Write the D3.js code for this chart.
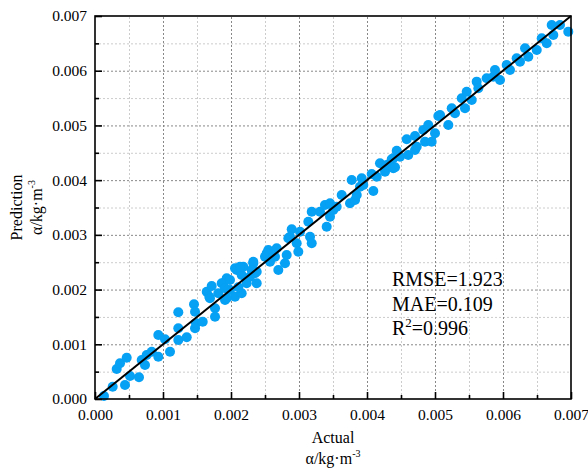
<!DOCTYPE html>
<html>
<head>
<meta charset="utf-8">
<script src="https://cdn.jsdelivr.net/npm/d3@7"></script>
<style>
	body{margin:0;background:#fff;}
	.axis path{display:none;}
	.axis line{stroke:#000;stroke-width:1.6px;}
	.grid-major line{stroke:#888;stroke-width:1px;stroke-dasharray:2,2;}
	.grid-minor line{stroke:#ccc;stroke-width:1px;stroke-dasharray:2,2;}
	.grid path{display:none;}
</style>
</head>
<body>
<div id="chart"></div>
<script>
// values (kg·m^-3)
const actual = [
	0.000132,0.000260,0.000441,0.000515,0.000647,0.000319,0.000368,0.000466,0.000687,0.000735,
	0.000760,0.000834,0.000931,0.001103,0.000931,0.001029,0.001225,0.001225,0.001349,0.001225,
	0.001456,0.001471,0.001471,0.001485,0.001584,0.001765,0.001765,0.001643,0.001681,0.001716,
	0.001813,0.001887,0.001937,0.001912,0.001985,0.002059,0.002084,0.002157,0.002157,0.002231,
	0.002279,0.002328,0.002378,0.002353,0.002515,0.002574,0.001691,0.001863,0.001912,0.001937,
	0.001985,0.002059,0.002107,0.002181,0.002328,0.002378,0.002304,0.002500,0.002549,0.002672,
	0.002647,0.002696,0.002794,0.002819,0.002843,0.002893,0.002966,0.002990,0.002132,0.002525,
	0.002622,0.002868,0.003015,0.003162,0.003187,0.003137,0.003187,0.003309,0.003382,0.003407,
	0.003456,0.003504,0.003456,0.003554,0.003628,0.003750,0.003775,0.003824,0.003897,0.003922,
	0.003946,0.004093,0.004069,0.004143,0.004191,0.004265,0.004290,0.004387,0.004387,0.004485,
	0.004607,0.004706,0.003849,0.004363,0.004412,0.004437,0.004584,0.004706,0.004731,0.004828,
	0.004853,0.004901,0.004951,0.005000,0.005049,0.005196,0.005246,0.005294,0.005393,0.005441,
	0.005466,0.005540,0.005074,0.005613,0.005637,0.005760,0.005882,0.005857,0.005956,0.006054,
	0.006103,0.006201,0.006250,0.006324,0.006372,0.006496,0.006569,0.006643,0.006740,0.006716,
	0.006838,0.006960
];
const predicted = [
	0.000055,0.000224,0.000256,0.000420,0.000397,0.000548,0.000653,0.000755,0.000713,0.000621,
	0.000804,0.000865,0.000773,0.000865,0.001170,0.001091,0.001078,0.001292,0.001128,0.001585,
	0.001731,0.001596,0.001292,0.001384,0.001413,0.001658,0.001504,0.001961,0.001870,0.002065,
	0.001932,0.002115,0.002206,0.001810,0.001992,0.001870,0.002358,0.002266,0.001932,0.002115,
	0.002235,0.002480,0.002115,0.002298,0.002614,0.002510,0.001841,0.002115,0.002023,0.001841,
	0.002175,0.002389,0.002042,0.002418,0.002510,0.002327,0.002358,0.002601,0.002723,0.002754,
	0.002601,0.002358,0.002480,0.002632,0.002937,0.003102,0.002846,0.002692,0.002418,0.002663,
	0.002601,0.002967,0.003058,0.002967,0.002846,0.003241,0.003423,0.003423,0.003546,0.003149,
	0.003332,0.003455,0.003577,0.003515,0.003729,0.003577,0.004003,0.003637,0.003880,0.004034,
	0.003912,0.003802,0.004113,0.004063,0.004308,0.004155,0.004277,0.004217,0.004400,0.004429,
	0.004460,0.004551,0.003729,0.004381,0.004235,0.004538,0.004747,0.004807,0.004612,0.004917,
	0.004703,0.005008,0.004703,0.004856,0.005173,0.005008,0.005313,0.005222,0.005496,0.005313,
	0.005617,0.005465,0.005191,0.005800,0.005679,0.005862,0.006013,0.005891,0.005831,0.006105,
	0.006013,0.006227,0.006165,0.006410,0.006257,0.006379,0.006593,0.006502,0.006653,0.006836,
	0.006836,0.006714
];
const majorTicks = [0,0.001,0.002,0.003,0.004,0.005,0.006,0.007];
const minorTicks = [0.0005,0.0015,0.0025,0.0035,0.0045,0.0055,0.0065];
const statLines = [
	{label:'RMSE', value:'1.923'},
	{label:'MAE', value:'0.109'},
	{label:'R', sup:'2', value:'0.996'}
];

const serif = '"Liberation Serif", "Times New Roman", serif';
const width = 588;
const height = 471;
const margin = {t:16,r:17,b:72,l:95};
const w = width - margin.l - margin.r;
const h = height - margin.t - margin.b;

const svg = d3.select('#chart').append('svg')
	.attr('width',width)
	.attr('height',height);

const plot = svg.append('g')
	.attr('transform',`translate(${margin.l},${margin.t})`);

const scaleX = d3.scaleLinear().domain([0,0.007]).range([0,w]);
const scaleY = d3.scaleLinear().domain([0,0.007]).range([h,0]);
const fmt = d3.format('.3f');

//Grid lines, minor first so the darker major lines sit on top
plot.append('g').attr('class','grid grid-minor')
	.attr('transform',`translate(0,${h})`)
	.call(d3.axisBottom(scaleX).tickValues(minorTicks).tickSize(-h).tickFormat(''));
plot.append('g').attr('class','grid grid-minor')
	.call(d3.axisLeft(scaleY).tickValues(minorTicks).tickSize(-w).tickFormat(''));
plot.append('g').attr('class','grid grid-major')
	.attr('transform',`translate(0,${h})`)
	.call(d3.axisBottom(scaleX).tickValues(majorTicks.slice(1,-1)).tickSize(-h).tickFormat(''));
plot.append('g').attr('class','grid grid-major')
	.call(d3.axisLeft(scaleY).tickValues(majorTicks.slice(1,-1)).tickSize(-w).tickFormat(''));

//Points
const pts = d3.zip(actual,predicted);
plot.selectAll('.pt')
	.data(pts)
	.enter()
	.append('circle')
	.attr('class','pt')
	.attr('cx', d => scaleX(d[0]))
	.attr('cy', d => scaleY(d[1]))
	.attr('r',5)
	.style('fill','#06a0f4');

//y = x reference line
plot.append('line')
	.attr('x1',scaleX(0)).attr('y1',scaleY(0))
	.attr('x2',scaleX(0.007)).attr('y2',scaleY(0.007))
	.style('stroke','#000')
	.style('stroke-width',2);

//Frame
plot.append('rect')
	.attr('width',w).attr('height',h)
	.style('fill','none')
	.style('stroke','#000')
	.style('stroke-width',1.6);

//Axes, ticks pointing inward
const axisX = plot.append('g').attr('class','axis axis-x')
	.attr('transform',`translate(0,${h})`)
	.call(d3.axisBottom(scaleX).tickValues(majorTicks).tickSize(-7).tickPadding(10).tickFormat(fmt));
plot.append('g').attr('class','axis axis-x-minor')
	.attr('transform',`translate(0,${h})`)
	.call(d3.axisBottom(scaleX).tickValues(minorTicks).tickSize(-4).tickFormat(''));
const axisY = plot.append('g').attr('class','axis axis-y')
	.call(d3.axisLeft(scaleY).tickValues(majorTicks).tickSize(-7).tickPadding(8).tickFormat(fmt));
plot.append('g').attr('class','axis axis-y-minor')
	.call(d3.axisLeft(scaleY).tickValues(minorTicks).tickSize(-4).tickFormat(''));
[axisX,axisY].forEach(a => {
	a.attr('font-family',null).attr('font-size',null);
	a.selectAll('text')
		.style('font-family',serif)
		.style('font-size','15.5px')
		.style('fill','#000');
});

//Axis titles
const xTitle = svg.append('g')
	.attr('transform',`translate(${margin.l + w/2},0)`)
	.attr('text-anchor','middle');
xTitle.append('text').attr('y',443).text('Actual');
const xUnit = xTitle.append('text').attr('y',464);
xUnit.append('tspan').text('α/kg·m');
xUnit.append('tspan').attr('dy',-7).style('font-size','10px').text('-3');

const yTitle = svg.append('g')
	.attr('transform',`translate(0,${margin.t + h/2}) rotate(-90)`)
	.attr('text-anchor','middle');
yTitle.append('text').attr('y',22).text('Prediction');
const yUnit = yTitle.append('text').attr('y',42);
yUnit.append('tspan').text('α/kg·m');
yUnit.append('tspan').attr('dy',-7).style('font-size','10px').text('-3');

[xTitle,yTitle].forEach(g => g.selectAll('text')
	.style('font-family',serif)
	.style('font-size','16px'));

//Statistics
const stats = svg.append('g')
	.attr('transform','translate(392,0)');
statLines.forEach((s,i) => {
	const t = stats.append('text')
		.attr('y',286 + i*24.5)
		.style('font-family',serif)
		.style('font-size','20px');
	t.append('tspan').text(s.label);
	if(s.sup){
		t.append('tspan').attr('dy',-8).style('font-size','13px').text(s.sup);
		t.append('tspan').attr('dy',8).text('=' + s.value);
	}else{
		t.append('tspan').text('=' + s.value);
	}
});
</script>
</body>
</html>
